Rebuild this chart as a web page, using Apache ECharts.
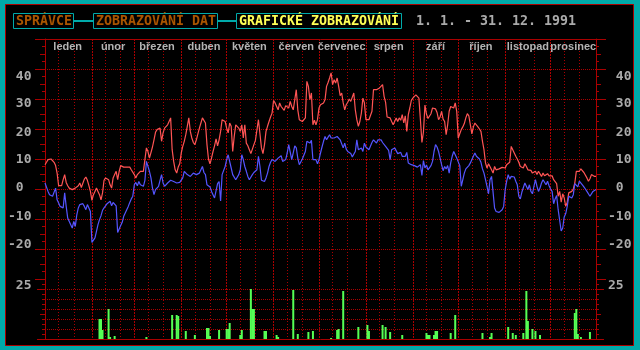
<!DOCTYPE html>
<html><head><meta charset="utf-8">
<script src="https://cdn.jsdelivr.net/npm/echarts@6/dist/echarts.min.js"></script>
<style>html,body{margin:0;padding:0;background:#00AAAA;}#c{width:640px;height:350px;}</style>
</head><body><div id="c"></div>
<script>
const monthNames = ['leden','únor','březen','duben','květen','červen','červenec','srpen','září','říjen','listopad','prosinec'];
const monthLengths = [31,28,31,30,31,30,31,31,30,31,30,31];
const tempMax = [
8.1,8.9,9.8,10,10,9.8,8.9,7.8,5.3,1.1,
1.4,1.1,3.1,4.8,2.2,1.1,0.3,-0.2,-0.2,-0.8,
0.3,0.3,1.1,2,0.5,1.1,3.3,4,2.9,1.1,
-0.8,-3.8,-1.9,-0.8,0.3,-0.8,-1.9,-3.6,-1.3,2.9,
3.7,4,3.1,1.4,0.3,3.7,4.8,5.9,3.1,5.9,
7.8,7.5,7.3,7.8,7.3,7,7.3,6.4,5.9,4.8,
3.7,4.8,5.3,5.9,5.5,5.9,9.8,13.7,12.5,10.3,
9.8,14,16.4,18.9,19.8,20,20.3,15.9,18.7,20.3,
20.9,21.4,22,23.7,13.1,9.2,6.4,5.3,7.3,8.4,
12,14.2,15.9,18.1,20.9,23.7,19.2,17,15.5,14.8,
16.4,18.4,20.3,22,23.7,23.1,22,14.8,10,8.4,
10.3,12.5,14.4,16.7,14.4,16.4,19.2,23.1,22.5,22.5,
20.3,18.7,22,20.9,12.5,17.5,21.4,20.9,20.3,19.2,
21.4,17,21.4,15.3,14.4,13.1,11.8,12,14.8,16.2,
16.7,23.1,22.5,13.7,11.8,14.8,19.2,20.9,22.5,24,
25.3,29.5,28.7,29.2,26.4,28.7,27.5,28.1,26.2,27.8,
27.5,27,29.2,27.5,26.4,29.8,33.1,26.4,23.1,23.1,
22.5,22.2,23.7,35.9,34.2,29.8,32,21.4,22.9,21.4,
23.1,27,28.1,27.5,28.7,29.8,34.2,35.5,37,38.7,
34.8,36.4,35.3,37,34.2,31.1,32,28.7,26.4,28.1,
28.9,30,29.2,28.7,32,26.4,23.1,20.9,22.5,25.3,
30.3,28.7,23.1,23.7,23.1,22.5,25.9,33.1,32.5,33.1,
33.1,33.7,33.1,34.8,30.9,28.9,24,23.7,23.7,22.5,
21.4,22,23.7,22.5,23.7,22.9,24.8,22,24.4,19.2,
24.8,27,29.5,30.3,30.9,31.4,32,30.3,23.1,15.5,
19,28,25,23.5,24,25.1,27,27.5,26.7,25.5,
23.1,24,25.9,23.3,22.5,18.1,21.4,25.9,27.5,27.3,
27,28.7,25.9,17,18.4,19.8,20.7,21.8,23.7,25.1,
24.4,21.4,18.4,20.7,22,22,20.7,20,19.2,15.9,
13.1,8.7,7,8.4,8.4,6.4,5.3,7.5,6.4,7,
6.7,6.7,7.2,7.5,7,8.1,7.5,8.9,14.2,14.4,
12,10.9,10,8.9,7.5,7,7,8.4,7.5,6.4,
5.9,6.2,5.3,5.5,5.9,4.8,5.9,6.2,4.2,5.3,
4.4,4.8,5.1,4.4,4.8,4.4,3.1,3.7,1.8,-2.4,
-0.8,-4.4,-1.6,-3,-5.8,-4.4,-1.3,-0.8,-0.8,0,
2,5.9,5.3,5.9,6.7,6.4,5.5,5.1,3.7,2.6,
3.4,4.8,4.2,4.2,4.2
];
const tempMin = [
2,2,-0.8,-1.9,-2.2,-2.4,-3,0.3,-3.6,-4.7,
-5.8,-5.2,-6.3,-1.3,-5.8,-9.7,-10.2,-11.9,-13,-10.8,
-12.5,-8.6,-6.3,-5.2,-5.8,-4.9,-5.8,-6.9,-5.2,-6.3,
-7.5,-17.8,-17.8,-16.3,-14.1,-11.9,-10.2,-8.9,-7.1,-6.3,
-5.6,-4.9,-5.2,-4.1,-5.6,-4.5,-4.1,-5.6,-14.5,-13.3,
-12.2,-11.1,-9.1,-8,-6.9,-5.8,-4.5,-3.3,-2.4,1.4,
2.2,1.1,2.5,1.4,2,0.9,2.9,9.2,9.8,5.9,
3.7,0.3,-1.9,-0.2,0.3,0.9,2.9,4.8,2,0.9,
1.4,2,2.2,2.9,3.1,2.5,2,2,2.2,2.2,
2.2,3.7,5.9,5.5,4.8,4.8,4.2,4.8,5.3,5.9,
4.8,5.3,5.3,5.9,7.5,5.5,4.8,1.4,1.1,0.7,
-0.8,-1.9,-3,-3.6,1.8,2.5,-4,4.8,5.3,7.5,
9.8,11.4,10.9,7,4.8,4.8,3.1,3.1,4.8,6.4,
11.4,9.8,7.5,5.9,4.2,3.1,3.7,4.8,5.5,5.9,
6.4,10.9,7.5,2.9,2.5,2.5,3.7,5.3,7.5,8.9,
9.8,9.8,9.2,9.8,10.3,9.8,11.1,9.2,8.9,9.8,
12,14.8,14.8,9.8,9.8,14.4,13.7,10.3,8.1,8.7,
10,10.3,12.5,15.9,16.4,15.3,16.2,9.8,9.8,9.8,
8.4,9.8,12,14,15.9,17.5,16.4,17.3,18.1,17,
17,17,17,17.5,17.5,16.4,15.9,13.7,15.3,13.3,
12.5,13.1,11.8,10.7,10.9,12.5,16.4,13.1,12.5,13.7,
12.5,15.3,14,14,13.1,12.9,15.5,16.4,17,15.3,
16.4,15.9,16.4,15.5,15.1,14.2,13.7,12.9,9.8,13.1,
12.5,13.7,13.1,11.8,12.2,12.2,10.9,10.3,10.9,12.2,
8.7,8.1,8.1,8.1,7.8,7.5,7.3,7.3,8.1,4.5,
9.5,7,8,6.4,6.4,7.8,9.2,12.5,14.8,14,
12.5,10.3,8.1,6.1,7.5,6.7,7.8,5.3,8.7,10.9,
12.5,13.1,10.3,10.3,7.8,0.9,0.3,5.3,6.7,7.3,
7.8,8.7,8.4,10.9,12,10.9,11.4,10,8.9,6.7,
5.3,3.1,0.9,-1.6,3.1,4.2,3.7,-6.3,-7.5,-7.8,
-7.8,-7.8,-6.9,-5.8,-0.2,2.6,4.8,3.3,4.2,4.8,
4,2.6,1.4,-2.4,-3.3,-1.1,-0.8,2,1.4,-0.2,
1.4,-0.8,-1.6,0.9,3.1,0.9,-0.8,0.3,2,3.1,
2.6,1.4,2.6,1.1,0,-0.8,-4.9,-3.3,-2.2,-6.9,
-6.3,-14,-13,-9.3,-8.2,-5.8,-2.4,-2.4,-3,-1.9,
1.8,1.4,0.7,2.6,2.9,1.4,0.7,0,-0.8,-0.8,
-2.4,-1.9,-0.8,-0.2,-0.2
];
const rainDays = [36,37,38,42,43,46,67,84,87,88,93,99,107,108,109,115,120,121,122,129,130,136,137,138,145,146,153,154,164,167,174,177,189,193,194,197,207,213,214,223,225,228,236,252,253,254,257,258,259,268,271,289,294,295,306,309,311,316,318,319,322,324,327,350,351,352,354,360];
const rainValues = [10,10,4.5,15,1,1.5,1,12,12,11.5,4,2,5.5,5.5,1.5,4.5,5,5,8,2,4.5,25,15,15,4,4,2,1,24.5,2.5,3.5,4,0.5,4.5,5,24,6,7,4,7,6,3.5,2,3,2,2,2,4,4,3,12,3,1,3,6,3,2,3,24,9,5,4,2,13,15,2.5,1,3.5];
const tempTickLabels = [-20,-10,0,10,20,30,40];
const rainTickLabels = [25];
const titleTexts = ['SPRÁVCE','ZOBRAZOVÁNÍ DAT','GRAFICKÉ ZOBRAZOVÁNÍ','1. 1. - 31. 12. 1991'];

// ---- build helpers ----
const RED = '#AA0000', GRAY = '#AAAAAA', CYAN = '#00AAAA';
const MONO = '"DejaVu Sans Mono", "Liberation Mono", monospace';
const monthStarts = []; let acc = 0;
monthLengths.forEach(l => { monthStarts.push(acc); acc += l; });
const days = [];
monthLengths.forEach((l, m) => { for (let d = 1; d <= l; d++) days.push(d + '. ' + (m + 1) + '.'); });
const rain = days.map(() => 0);
rainDays.forEach((d, i) => { rain[d] = rainValues[i]; });
const monthStartSet = new Set(monthStarts.slice(1));
const decadeSet = new Set();
monthStarts.forEach(s => { decadeSet.add(s + 9); decadeSet.add(s + 19); });
const labelIdx = {};
monthStarts.forEach((s, m) => { labelIdx[s + Math.floor(monthLengths[m] / 2)] = m; });

const tempShift = {'40': 7.4, '30': 5, '20': 3.4, '10': 0.7, '0': -1, '-10': -2.6, '-20': -4.3};
function richFor(shifts) {
  const r = {};
  Object.keys(shifts).forEach((k, i) => {
    const s = shifts[k];
    r['s' + i] = {
      fontFamily: MONO, fontWeight: 'bold', fontSize: 13, color: GRAY,
      padding: s >= 0 ? [2 * s, 0, 0, 0] : [0, 0, -2 * s, 0]
    };
  });
  return r;
}
const tempRich = richFor(tempShift);
const tempKeys = Object.keys(tempShift);
function tempFmt(v) {
  if (tempTickLabels.indexOf(v) < 0) return '';
  const i = tempKeys.indexOf(String(v));
  const t = v < 0 ? String(v) : ' ' + v;
  return '{s' + i + '|' + t + '}';
}
const rainRichL = richFor({'25': -3.6});
const rainRichR = richFor({'25': -3});
function rainFmtL(v) { return rainTickLabels.indexOf(v) < 0 ? '' : '{s0| ' + v + '}'; }
function rainFmtR(v) { return rainTickLabels.indexOf(v) < 0 ? '' : '{s0|' + v + '}'; }

const gridT = {left: 45, right: 44, top: 39, height: 240};
const gridP = {left: 45, right: 44, top: 279, height: 60};

function tickAxis(grid, pos, min, max, interval, len) {
  return {type: 'value', gridIndex: grid, position: pos, min: min, max: max, interval: interval,
    axisLine: {show: false}, axisTick: {show: true, length: len, lineStyle: {color: RED}},
    axisLabel: {show: false}, splitLine: {show: false}};
}

const yAxes = [
  {type: 'value', gridIndex: 0, position: 'left', min: -30, max: 50, interval: 10,
   axisLine: {show: true, lineStyle: {color: RED}},
   axisTick: {show: true, length: 10, lineStyle: {color: RED}},
   minorTick: {show: true, splitNumber: 4, length: 3, lineStyle: {color: RED}},
   splitLine: {show: true, showMinLine: false, showMaxLine: false, lineStyle: {color: RED, type: [1, 1]}},
   axisLabel: {show: true, align: 'left', margin: 37, formatter: tempFmt, rich: tempRich,
     fontFamily: MONO, fontWeight: 'bold', fontSize: 13, color: GRAY}},
  tickAxis(0, 'left', -30, 50, 5, 5),
  {type: 'value', gridIndex: 0, position: 'right', min: -30, max: 50, interval: 10,
   axisLine: {show: true, lineStyle: {color: RED}},
   axisTick: {show: true, length: 10, lineStyle: {color: RED}},
   minorTick: {show: true, splitNumber: 4, length: 3, lineStyle: {color: RED}},
   splitLine: {show: false},
   axisLabel: {show: true, align: 'left', margin: 12, formatter: tempFmt, rich: tempRich,
     fontFamily: MONO, fontWeight: 'bold', fontSize: 13, color: GRAY}},
  tickAxis(0, 'right', -30, 50, 5, 5),
  {type: 'value', gridIndex: 1, position: 'left', min: 0, max: 30, interval: 5,
   axisLine: {show: true, lineStyle: {color: RED}},
   axisTick: {show: true, length: 3, lineStyle: {color: RED}},
   minorTick: {show: true, splitNumber: 2, length: 3, lineStyle: {color: RED}},
   splitLine: {show: true, showMinLine: false, showMaxLine: false, lineStyle: {color: RED, type: [1, 1]}},
   axisLabel: {show: true, align: 'left', margin: 37, formatter: rainFmtL, rich: rainRichL,
     fontFamily: MONO, fontWeight: 'bold', fontSize: 13, color: GRAY}},
  tickAxis(1, 'left', 0, 30, 12.5, 5),
  tickAxis(1, 'left', 0, 30, 25, 8),
  {type: 'value', gridIndex: 1, position: 'right', min: 0, max: 30, interval: 5,
   axisLine: {show: true, lineStyle: {color: RED}},
   axisTick: {show: true, length: 3, lineStyle: {color: RED}},
   minorTick: {show: true, splitNumber: 2, length: 3, lineStyle: {color: RED}},
   splitLine: {show: false},
   axisLabel: {show: true, align: 'left', margin: 12, formatter: rainFmtR, rich: rainRichR,
     fontFamily: MONO, fontWeight: 'bold', fontSize: 13, color: GRAY}},
  tickAxis(1, 'right', 0, 30, 12.5, 5),
  tickAxis(1, 'right', 0, 30, 25, 8)
];

function catAxis(grid, pos, lineShow, set, dash) {
  return {type: 'category', gridIndex: grid, position: pos, data: days, boundaryGap: false,
    axisLine: {show: lineShow, onZero: false, lineStyle: {color: RED}},
    axisTick: {show: false}, axisLabel: {show: false},
    splitLine: {show: true, interval: (i) => set.has(i), lineStyle: {color: RED, type: dash}}};
}
const xTop = catAxis(0, 'top', true, monthStartSet, [2, 1]);
xTop.axisLabel = {show: true, inside: true, margin: 2, verticalAlign: 'top', align: 'center',
  interval: (i) => labelIdx[i] !== undefined,
  formatter: (v, i) => labelIdx[i] !== undefined ? monthNames[labelIdx[i]] : '',
  fontFamily: '"Liberation Sans", Arial, sans-serif', fontWeight: 'bold', fontSize: 11, color: '#B4B4B4'};
const xAxes = [
  xTop,
  catAxis(0, 'bottom', false, decadeSet, [1, 2]),
  catAxis(1, 'bottom', true, monthStartSet, [2, 1]),
  catAxis(1, 'top', false, decadeSet, [1, 2])
];

const titleFont = 'bold 13.3px ' + MONO;
const graphics = [
  {type: 'rect', z: -10, shape: {x: 5.5, y: 4.5, width: 628, height: 341}, style: {fill: '#000000', stroke: RED, lineWidth: 1}},
  {type: 'line', z: 10, shape: {x1: 74, y1: 21, x2: 93, y2: 21}, style: {stroke: CYAN, lineWidth: 2}},
  {type: 'line', z: 10, shape: {x1: 217, y1: 21, x2: 237, y2: 21}, style: {stroke: CYAN, lineWidth: 2}},
  {type: 'rect', z: 10, shape: {x: 13.5, y: 13.5, width: 60, height: 15}, style: {fill: '#000000', stroke: CYAN, lineWidth: 1}},
  {type: 'rect', z: 10, shape: {x: 93.5, y: 13.5, width: 124, height: 15}, style: {fill: '#000000', stroke: CYAN, lineWidth: 1}},
  {type: 'rect', z: 10, shape: {x: 236.5, y: 13.5, width: 165, height: 15}, style: {fill: '#000000', stroke: CYAN, lineWidth: 1}},
  {type: 'text', z: 11, style: {text: titleTexts[0], x: 16, y: 21.5, fill: '#AA5500', font: titleFont, align: 'left', verticalAlign: 'middle'}},
  {type: 'text', z: 11, style: {text: titleTexts[1], x: 96, y: 21.5, fill: '#AA5500', font: titleFont, align: 'left', verticalAlign: 'middle'}},
  {type: 'text', z: 11, style: {text: titleTexts[2], x: 239, y: 21.5, fill: '#FFFF55', font: titleFont, align: 'left', verticalAlign: 'middle'}},
  {type: 'text', z: 11, style: {text: titleTexts[3], x: 416, y: 21.5, fill: GRAY, font: titleFont, align: 'left', verticalAlign: 'middle'}}
];

const chart = echarts.init(document.getElementById('c'), null, {renderer: 'canvas'});
chart.setOption({
  animation: false,
  backgroundColor: CYAN,
  grid: [gridT, gridP],
  xAxis: xAxes,
  yAxis: yAxes,
  graphic: graphics,
  series: [
    {name: 'max', type: 'line', xAxisIndex: 0, yAxisIndex: 0, data: tempMax, symbol: 'none', showSymbol: false,
     lineStyle: {color: '#FF5555', width: 1.2}, itemStyle: {color: '#FF5555'}, z: 3},
    {name: 'min', type: 'line', xAxisIndex: 0, yAxisIndex: 0, data: tempMin, symbol: 'none', showSymbol: false,
     lineStyle: {color: '#5555FF', width: 1.2}, itemStyle: {color: '#5555FF'}, z: 3},
    {name: 'srážky', type: 'bar', xAxisIndex: 2, yAxisIndex: 4, data: rain, barWidth: 2,
     itemStyle: {color: '#55FF55'}, z: 3}
  ]
});
</script></body></html>
